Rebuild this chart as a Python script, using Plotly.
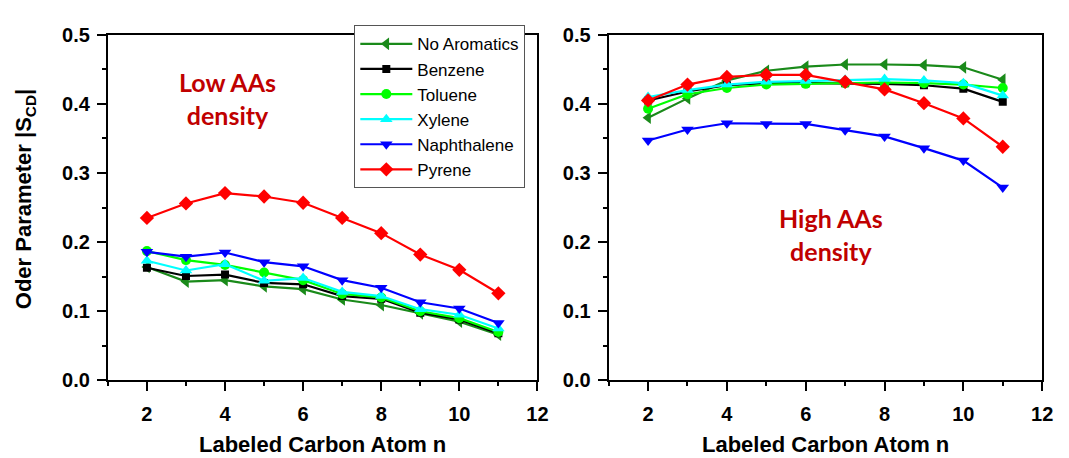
import plotly.graph_objects as go

carbon_n = [2, 3, 4, 5, 6, 7, 8, 9, 10, 11]
series_names = ["No Aromatics", "Benzene", "Toluene", "Xylene", "Naphthalene", "Pyrene"]

low_no_aromatics = [0.164, 0.143, 0.145, 0.136, 0.132, 0.117, 0.109, 0.097, 0.085, 0.066]
low_benzene = [0.163, 0.151, 0.153, 0.141, 0.139, 0.122, 0.118, 0.098, 0.088, 0.068]
low_toluene = [0.187, 0.174, 0.167, 0.156, 0.145, 0.125, 0.120, 0.100, 0.090, 0.070]
low_xylene = [0.173, 0.159, 0.168, 0.144, 0.148, 0.128, 0.122, 0.103, 0.095, 0.075]
low_naphthalene = [0.186, 0.179, 0.185, 0.171, 0.165, 0.145, 0.134, 0.113, 0.104, 0.083]
low_pyrene = [0.235, 0.256, 0.271, 0.266, 0.257, 0.235, 0.213, 0.182, 0.160, 0.126]

high_no_aromatics = [0.380, 0.408, 0.434, 0.448, 0.454, 0.457, 0.457, 0.456, 0.453, 0.435]
high_benzene = [0.405, 0.418, 0.427, 0.430, 0.430, 0.430, 0.429, 0.427, 0.422, 0.403]
high_toluene = [0.393, 0.414, 0.423, 0.428, 0.429, 0.430, 0.431, 0.430, 0.428, 0.423]
high_xylene = [0.410, 0.420, 0.428, 0.432, 0.433, 0.435, 0.436, 0.434, 0.430, 0.412]
high_naphthalene = [0.347, 0.363, 0.372, 0.371, 0.371, 0.362, 0.353, 0.336, 0.318, 0.279]
high_pyrene = [0.405, 0.428, 0.439, 0.442, 0.442, 0.432, 0.421, 0.401, 0.379, 0.338]

low_data = [low_no_aromatics, low_benzene, low_toluene, low_xylene, low_naphthalene, low_pyrene]
high_data = [high_no_aromatics, high_benzene, high_toluene, high_xylene, high_naphthalene, high_pyrene]

colors = ["#1a8a1a", "#000000", "#00ff00", "#00ffff", "#0000ff", "#ff0000"]
symbols = ["triangle-left", "square", "circle", "triangle-up", "triangle-down", "diamond"]
sizes = [11, 8, 10, 11, 11, 11]

fig = go.Figure()
for i, name in enumerate(series_names):
    fig.add_trace(go.Scatter(
        x=carbon_n, y=low_data[i], name=name, mode="lines+markers",
        line=dict(color=colors[i], width=2.2),
        marker=dict(symbol=symbols[i], size=sizes[i], color=colors[i]),
        xaxis="x", yaxis="y", showlegend=True))
for i, name in enumerate(series_names):
    fig.add_trace(go.Scatter(
        x=carbon_n, y=high_data[i], name=name, mode="lines+markers",
        line=dict(color=colors[i], width=2.2),
        marker=dict(symbol=symbols[i], size=sizes[i], color=colors[i]),
        xaxis="x2", yaxis="y2", showlegend=False))

tickfont = dict(family="Liberation Sans, Arial", size=20, color="black", weight="bold")
common_x = dict(range=[1, 12], tickmode="linear", tick0=0, dtick=2, ticks="outside", ticklen=9,
                tickwidth=2, tickcolor="black", showline=True, linewidth=2, linecolor="black",
                mirror=True, showgrid=False, zeroline=False, tickfont=tickfont, ticklabelstandoff=6,
                minor=dict(tickmode="linear", tick0=1, dtick=1, ticks="outside", ticklen=4,
                           tickwidth=2, tickcolor="black", showgrid=False))
common_y = dict(range=[0, 0.5], tickmode="linear", dtick=0.1, tick0=0, tickformat=".1f", ticks="outside",
                ticklen=9, tickwidth=2, tickcolor="black", showline=True, linewidth=2, linecolor="black",
                mirror=True, showgrid=False, zeroline=False, tickfont=tickfont, ticklabelstandoff=3,
                minor=dict(tickmode="linear", tick0=0, dtick=0.05, ticks="outside", ticklen=4,
                           tickwidth=2, tickcolor="black", showgrid=False))

ybot = (458 - 388) / 458
ytop = (458 - 25) / 458

title_font = dict(family="Liberation Sans, Arial", size=22, color="black", weight="bold")
note_font = dict(family="Lato, Open Sans", size=25, color="#c00000", weight="bold")

fig.update_layout(
    width=1069, height=458,
    margin=dict(l=0, r=0, t=0, b=0),
    paper_bgcolor="white", plot_bgcolor="white",
    xaxis=dict(domain=[109 / 1069, 543 / 1069], anchor="y", **common_x),
    yaxis=dict(domain=[ybot, ytop], anchor="x", **common_y),
    xaxis2=dict(domain=[615 / 1069, 1053 / 1069], anchor="y2", **common_x),
    yaxis2=dict(domain=[ybot, ytop], anchor="x2", **common_y),
    legend=dict(x=358 / 1069, y=1 - 15 / 458, xanchor="left", yanchor="top",
                bgcolor="white", bordercolor="#555555", borderwidth=1,
                font=dict(family="Liberation Sans, Arial", size=17, color="black"),
                tracegroupgap=0, itemwidth=52),
    annotations=[
        dict(text="Low AAs<br>density", x=230 / 1069, y=1 - 92 / 458, xref="paper", yref="paper",
             xanchor="center", yanchor="middle",
             showarrow=False, font=note_font, align="center"),
        dict(text="High AAs<br>density", x=840 / 1069, y=1 - 235 / 458, xref="paper", yref="paper",
             xanchor="center", yanchor="middle",
             showarrow=False, font=note_font, align="center"),
        dict(text="Labeled Carbon Atom n", x=326 / 1069, y=1 - 440 / 458, xref="paper", yref="paper",
             xanchor="center", yanchor="top",
             showarrow=False, font=title_font),
        dict(text="Labeled Carbon Atom n", x=834 / 1069, y=1 - 440 / 458, xref="paper", yref="paper",
             xanchor="center", yanchor="top",
             showarrow=False, font=title_font),
        dict(text="Oder Parameter |S<sub>CD</sub>|", x=26 / 1069, y=1 - 198 / 458, xref="paper", yref="paper",
             xanchor="center", yanchor="middle",
             showarrow=False, textangle=-90, font=title_font),
    ],
)

fig.write_html("out.html")
